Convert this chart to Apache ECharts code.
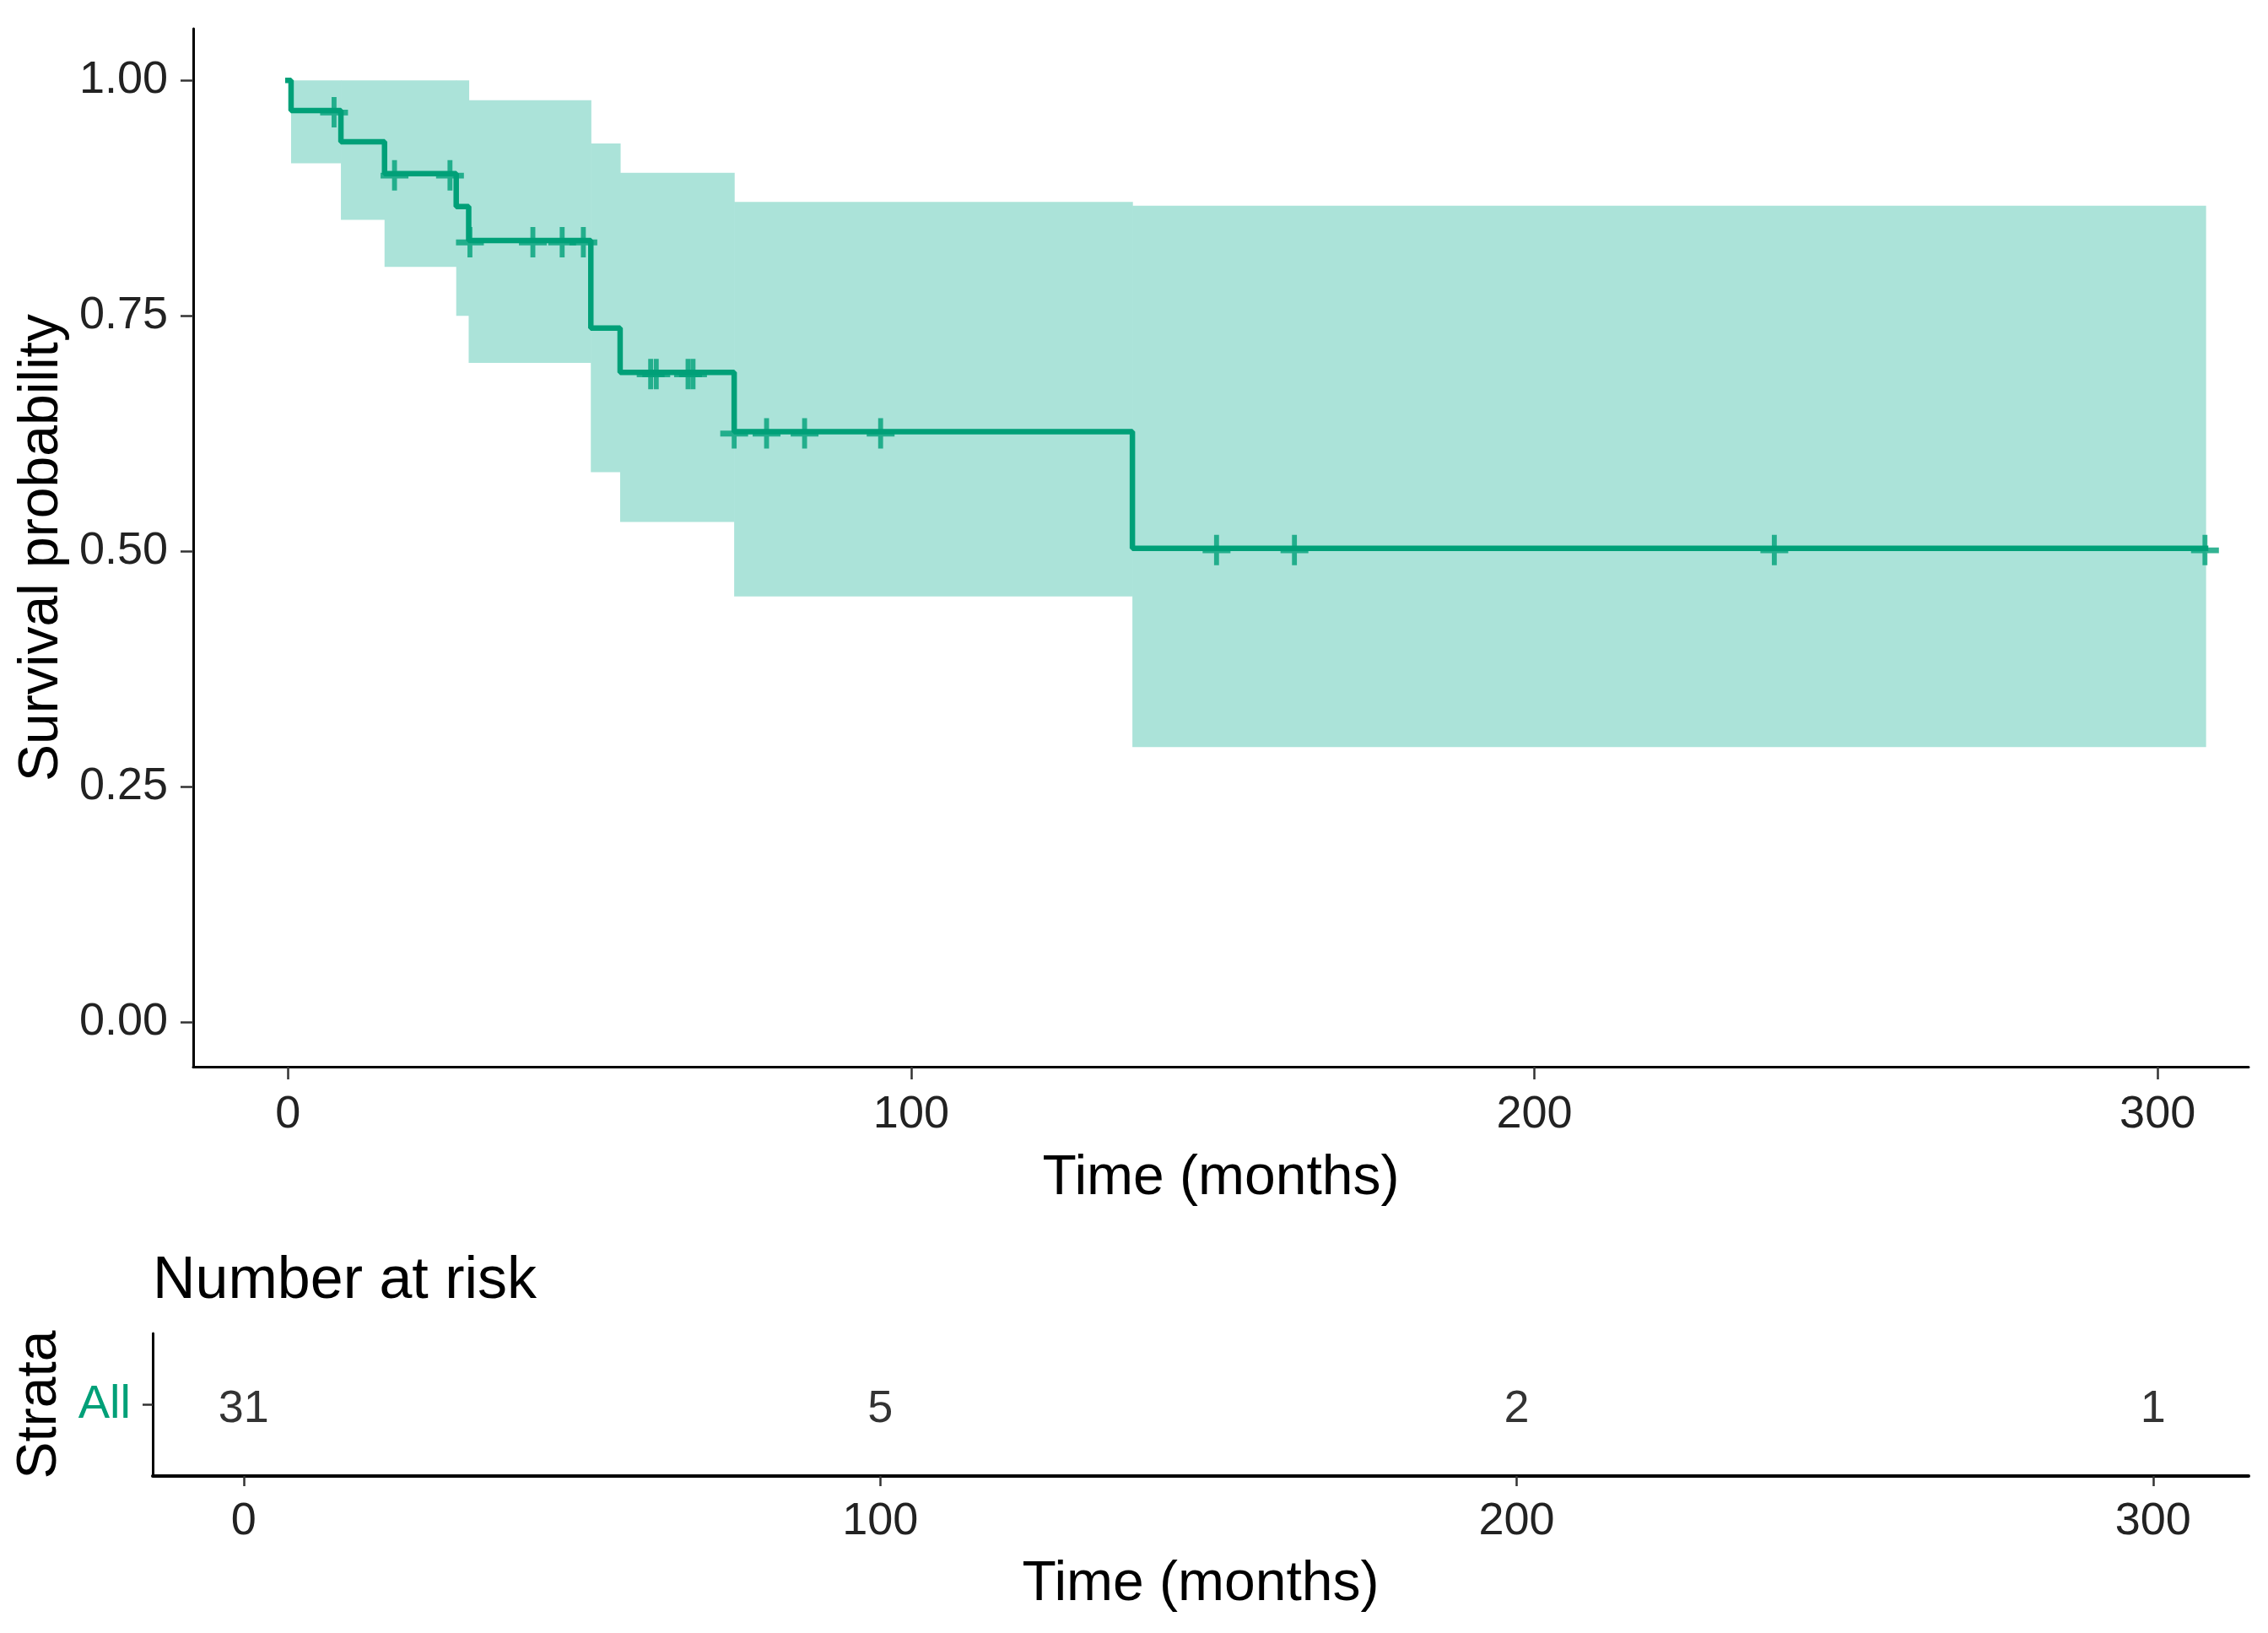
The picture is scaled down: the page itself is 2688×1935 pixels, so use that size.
<!DOCTYPE html>
<html>
<head>
<meta charset="utf-8">
<script src="https://cdn.jsdelivr.net/npm/echarts@6/dist/echarts.min.js"></script>
<style>
html,body{margin:0;padding:0;background:#fff;}
#chart{width:2688px;height:1935px;}
</style>
</head>
<body>
<div id="chart"></div>
<script>
// Kaplan-Meier step curve (time in months, survival probability)
var curveTimes = [0, 0.5, 8.5, 15.5, 27.0, 29.0, 48.6, 53.3, 71.6, 135.5, 307.7];
var curveSurv  = [1.000, 0.968, 0.935, 0.901, 0.866, 0.830, 0.737, 0.690, 0.627, 0.503, 0.503];

// Censored observations
var censorTimes = [7.4, 17.1, 26.0, 29.2, 39.3, 44.0, 47.4, 58.2, 59.1, 64.2, 65.0, 71.6, 76.8, 82.9, 95.1, 149.0, 161.5, 238.5, 307.6];
var censorSurv  = [0.968, 0.901, 0.901, 0.830, 0.830, 0.830, 0.830, 0.690, 0.690, 0.690, 0.690, 0.627, 0.627, 0.627, 0.627, 0.503, 0.503, 0.503, 0.503];

// Confidence band intervals
var bandStart = [0.5, 8.5, 15.5, 27.0, 29.0, 48.6, 53.3, 71.6, 135.5];
var bandEnd   = [8.5, 15.5, 27.0, 29.0, 48.6, 53.3, 71.6, 135.5, 307.7];
var bandLower = [0.912, 0.852, 0.802, 0.750, 0.700, 0.584, 0.531, 0.452, 0.292];
var bandUpper = [1.000, 1.000, 1.000, 1.000, 0.979, 0.933, 0.902, 0.871, 0.867];

// Number at risk table
var riskTimes  = [0, 100, 200, 300];
var riskCounts = [31, 5, 2, 1];
var strata = ['All'];

// Tick labels
var xTicks = [0, 100, 200, 300];
var yTicks = [0, 0.25, 0.5, 0.75, 1.0];

var GREEN = '#00A078';
var BAND = '#ABE3D9';
var FONT = 'Liberation Sans, Arial, sans-serif';

var curveData = curveTimes.map(function (t, i) { return [t, curveSurv[i]]; });
var censorData = censorTimes.map(function (t, i) { return [t, censorSurv[i]]; });
var bandData = bandStart.map(function (t, i) { return [t, bandEnd[i], bandLower[i], bandUpper[i]]; });
var riskData = riskTimes.map(function (t, i) { return [t, strata[0], riskCounts[i]]; });

var chart = echarts.init(document.getElementById('chart'), null, {renderer: 'canvas'});

var axisLineStyle = {color: '#000', width: 3};
var tickStyle = {color: '#333', width: 2.5};

var option = {
  backgroundColor: '#fff',
  animation: false,
  textStyle: {fontFamily: FONT},
  graphic: [{
    type: 'text',
    left: 181,
    top: 1484,
    style: {text: 'Number at risk', fontSize: 70, fontFamily: FONT, fill: '#000'}
  }],
  grid: [
    {left: 229, right: 23, top: 34, height: 1230},
    {left: 181, right: 23, top: 1580, height: 169}
  ],
  xAxis: [{
    type: 'value', gridIndex: 0, min: -15.2, max: 314.6,
    splitLine: {show: false},
    axisLine: {show: true, onZero: false, lineStyle: axisLineStyle},
    axisTick: {show: true, length: 15, lineStyle: tickStyle, customValues: xTicks},
    axisLabel: {fontSize: 54, color: '#222', margin: 30, fontFamily: FONT, customValues: xTicks},
    name: 'Time (months)', nameLocation: 'middle', nameGap: 100,
    nameTextStyle: {fontSize: 66, color: '#000', fontFamily: FONT}
  }, {
    type: 'value', gridIndex: 1, min: -14.3, max: 315,
    splitLine: {show: false},
    axisLine: {show: true, onZero: false, lineStyle: {color: '#000', width: 4}},
    axisTick: {show: true, length: 12, lineStyle: tickStyle, customValues: xTicks},
    axisLabel: {fontSize: 54, color: '#222', margin: 27, fontFamily: FONT, customValues: xTicks},
    name: 'Time (months)', nameLocation: 'middle', nameGap: 96,
    nameTextStyle: {fontSize: 66, color: '#000', fontFamily: FONT}
  }],
  yAxis: [{
    type: 'value', gridIndex: 0, min: -0.0475, max: 1.055,
    splitLine: {show: false},
    axisLine: {show: true, onZero: false, lineStyle: axisLineStyle},
    axisTick: {show: true, length: 15, lineStyle: tickStyle, customValues: yTicks},
    axisLabel: {fontSize: 54, color: '#222', margin: 30, fontFamily: FONT, customValues: yTicks,
      formatter: function (v) { return v.toFixed(2); }},
    name: 'Survival probability', nameLocation: 'middle', nameGap: 146, nameRotate: 90,
    nameTextStyle: {fontSize: 66, color: '#000', fontFamily: FONT}
  }, {
    type: 'category', gridIndex: 1, data: strata,
    splitLine: {show: false},
    axisLine: {show: true, onZero: false, lineStyle: {color: '#000', width: 3}},
    axisTick: {show: true, length: 12, alignWithLabel: true, lineStyle: tickStyle},
    axisLabel: {fontSize: 56, color: GREEN, margin: 26, fontFamily: FONT},
    name: 'Strata', nameLocation: 'middle', nameGap: 100, nameRotate: 90,
    nameTextStyle: {fontSize: 66, color: '#000', fontFamily: FONT}
  }],
  series: [{
    type: 'custom',
    xAxisIndex: 0, yAxisIndex: 0,
    data: bandData,
    encode: {x: [0, 1], y: [2, 3]},
    z: 1,
    renderItem: function (params, api) {
      var p0 = api.coord([api.value(0), api.value(3)]);
      var p1 = api.coord([api.value(1), api.value(2)]);
      return {
        type: 'rect',
        shape: {x: p0[0], y: p0[1], width: p1[0] - p0[0] + 0.6, height: p1[1] - p0[1]},
        style: {fill: BAND}
      };
    }
  }, {
    type: 'line',
    xAxisIndex: 0, yAxisIndex: 0,
    step: 'end',
    data: curveData,
    showSymbol: false,
    symbol: 'none',
    z: 3,
    lineStyle: {color: GREEN, width: 6.5, cap: 'square'}
  }, {
    type: 'scatter',
    xAxisIndex: 0, yAxisIndex: 0,
    data: censorData,
    symbol: 'path://M14,0H20V14H34V20.5H20V34H14V20.5H0V14H14Z',
    symbolSize: [33, 36],
    symbolOffset: [0, 2],
    z: 4,
    itemStyle: {color: GREEN}
  }, {
    type: 'scatter',
    xAxisIndex: 1, yAxisIndex: 1,
    data: riskData,
    symbolSize: 1,
    itemStyle: {color: 'rgba(0,0,0,0)'},
    label: {
      show: true, position: 'inside', offset: [0, 6],
      fontSize: 54, color: '#000', fontFamily: FONT,
      formatter: function (p) { return String(p.value[2]); }
    }
  }]
};

chart.setOption(option);
</script>
</body>
</html>
